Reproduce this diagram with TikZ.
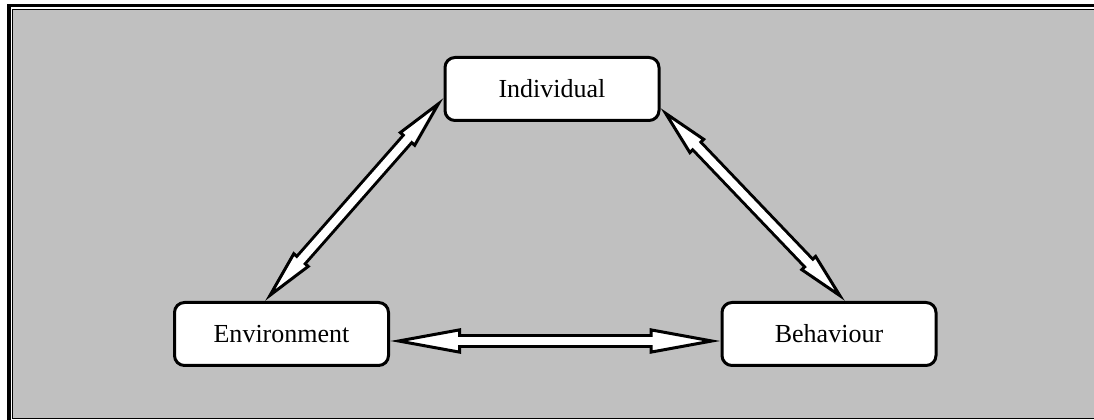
\documentclass[tikz,border=0pt]{standalone}
\usepackage{fontspec}
\setmainfont{Liberation Serif}
\usetikzlibrary{arrows.meta}
\definecolor{panelgray}{RGB}{192,192,192}
\tikzset{factor/.style={
            draw,
            fill=white,
            line width=0.06cm,
            rounded corners=0.2cm,
            minimum width=4.28cm,
            minimum height=1.26cm,
            inner sep=0pt,
            font=\fontsize{14.8}{18}\selectfont
        },
        twoway/.style 2 args={
            line width=0.06cm,
            {Triangle[length=#1,width=#2,fill=white]}-{Triangle[length=#1,width=#2,fill=white]},
            preaction={draw,-,line width=0.28cm,shorten <=0.9cm,shorten >=0.9cm},
            postaction={draw=white,-,line width=0.16cm,shorten <=0.9cm,shorten >=0.9cm}
        }
    }
\begin{document}
\begin{tikzpicture}
    \useasboundingbox (0,0) rectangle (21.88,8.4);
    % panel and frame
    \fill[panelgray] (0.25,0.03) rectangle (22.2,8.21);
    \draw[line width=0.08cm] (0.18,-0.1) -- (0.18,8.32);
    \draw[line width=0.06cm] (0.14,8.29) -- (22.2,8.29);
    \draw[line width=0.02cm] (0.25,0.02) -- (0.25,8.21) -- (22.2,8.21);
    \draw[line width=0.03cm] (0.25,0.03) -- (22.2,0.03);

    \node[factor] (ind) at (11.04,6.62) {Individual};
    \node[factor] (env) at (5.63,1.72) {Environment};
    \node[factor] (beh) at (16.58,1.72) {Behaviour};

    \draw[twoway={1.12cm}{0.44cm}] ([xshift=-0.33cm]env.north) -- ([yshift=-0.18cm]ind.west);
    \draw[twoway={1.08cm}{0.44cm}] ([yshift=-0.38cm]ind.east) -- ([xshift=0.32cm]beh.north);
    \draw[twoway={1.42cm}{0.5cm}] ([yshift=-0.14cm]env.east) -- ([yshift=-0.14cm]beh.west);
\end{tikzpicture}
\end{document}
